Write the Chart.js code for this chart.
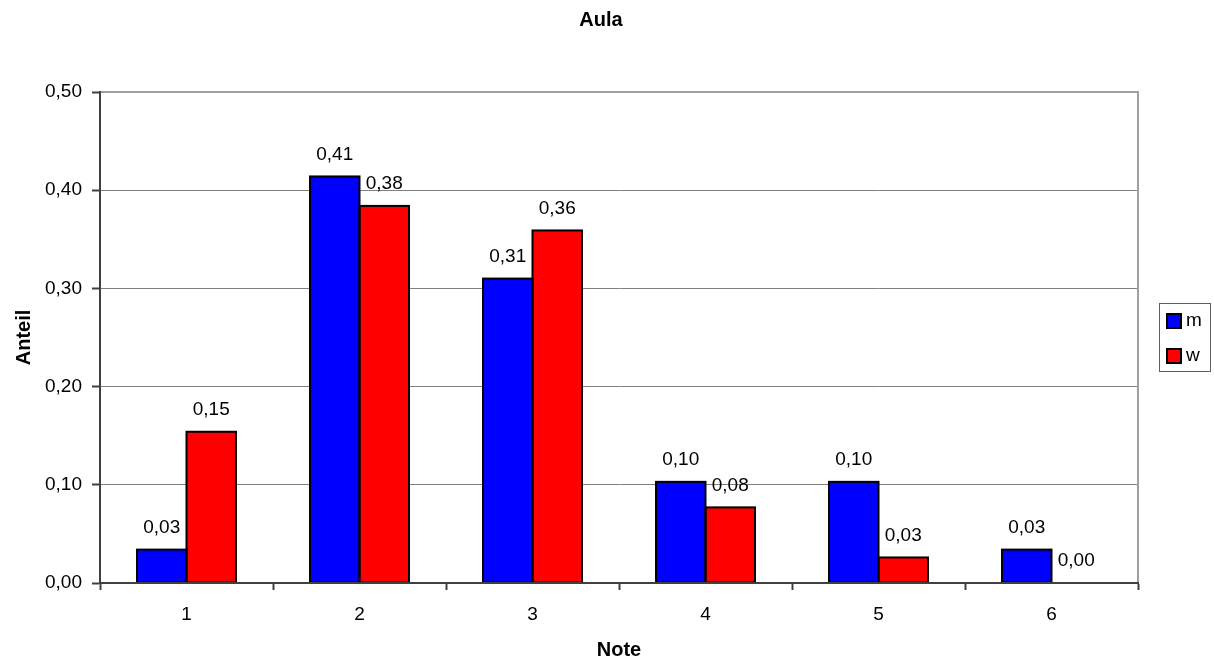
<!DOCTYPE html>
<html>
<head>
<meta charset="utf-8">
<title>Aula</title>
<script src="https://cdn.jsdelivr.net/npm/chart.js@4/dist/chart.umd.min.js"></script>
<style>
  html, body { margin: 0; padding: 0; background: #ffffff; }
  canvas { display: block; }
</style>
</head>
<body>
<canvas id="chart" width="1214" height="662"></canvas>
<script>
// Chart text
const chartTitle = 'Aula';
const xAxisTitle = 'Note';
const yAxisTitle = 'Anteil';

// Grades and the share of each group per grade
const categories = ['1', '2', '3', '4', '5', '6'];
const seriesNames = ['m', 'w'];
const valuesM = [0.034, 0.414, 0.310, 0.103, 0.103, 0.034];
const valuesW = [0.154, 0.384, 0.359, 0.077, 0.026, 0.000];
const yTicks = [0, 0.1, 0.2, 0.3, 0.4, 0.5];

const FONT = "'Liberation Sans', Arial, Helvetica, sans-serif";
const fmt = v => v.toFixed(2).replace('.', ',');

// Title centred over the drawing
const titleText = {
  id: 'titleText',
  afterDraw(chart) {
    const ctx = chart.ctx;
    ctx.save();
    ctx.font = 'bold 20px ' + FONT;
    ctx.fillStyle = '#000000';
    ctx.textAlign = 'center';
    ctx.textBaseline = 'middle';
    ctx.fillText(chartTitle, 601, 20);
    ctx.restore();
  }
};

// Black outline around each bar; neighbouring bars share one edge
const barOutlines = {
  id: 'barOutlines',
  afterDatasetsDraw(chart) {
    const ctx = chart.ctx;
    ctx.save();
    ctx.strokeStyle = '#000000';
    ctx.lineWidth = 2;
    chart.data.datasets.forEach((ds, i) => {
      const meta = chart.getDatasetMeta(i);
      meta.data.forEach((bar, j) => {
        if (!ds.data[j]) return;
        const p = bar.getProps(['x', 'y', 'base', 'width'], true);
        const l = p.x - p.width / 2;
        ctx.strokeRect(l, p.y, p.width, p.base - p.y);
      });
    });
    ctx.restore();
  }
};

// Value labels above each bar
const valueLabels = {
  id: 'valueLabels',
  afterDatasetsDraw(chart) {
    const ctx = chart.ctx;
    ctx.save();
    ctx.font = '19px ' + FONT;
    ctx.fillStyle = '#000000';
    ctx.textAlign = 'center';
    ctx.textBaseline = 'middle';
    chart.data.datasets.forEach((ds, i) => {
      const meta = chart.getDatasetMeta(i);
      meta.data.forEach((bar, j) => {
        ctx.fillText(fmt(ds.data[j]), bar.x, bar.y - 22);
      });
    });
    ctx.restore();
  }
};

// Plot frame: light top/right border, dark axes
const plotFrame = {
  id: 'plotFrame',
  afterDatasetsDraw(chart) {
    const { ctx, chartArea: a } = chart;
    ctx.save();
    ctx.lineWidth = 2;
    ctx.strokeStyle = '#a0a0a0';
    ctx.beginPath();
    ctx.moveTo(a.left, a.top);
    ctx.lineTo(a.right, a.top);
    ctx.lineTo(a.right, a.bottom);
    ctx.stroke();
    ctx.strokeStyle = '#404040';
    ctx.beginPath();
    ctx.moveTo(a.left, a.top - 1);
    ctx.lineTo(a.left, a.bottom);
    ctx.lineTo(a.right + 1, a.bottom);
    ctx.stroke();
    ctx.restore();
  }
};

// Boxed legend on the right
const boxLegend = {
  id: 'boxLegend',
  afterDraw(chart) {
    const ctx = chart.ctx;
    const box = { x: 1159.5, y: 303.5, w: 51, h: 68 };
    ctx.save();
    ctx.fillStyle = '#ffffff';
    ctx.fillRect(box.x, box.y, box.w, box.h);
    ctx.strokeStyle = '#606060';
    ctx.lineWidth = 1;
    ctx.strokeRect(box.x, box.y, box.w, box.h);
    ctx.font = '19px ' + FONT;
    ctx.textAlign = 'left';
    ctx.textBaseline = 'middle';
    chart.data.datasets.forEach((ds, i) => {
      const cy = 321 + i * 35;
      ctx.fillStyle = ds.backgroundColor;
      ctx.fillRect(1167, cy - 7, 14, 14);
      ctx.strokeStyle = '#000000';
      ctx.lineWidth = 2;
      ctx.strokeRect(1167, cy - 7, 14, 14);
      ctx.fillStyle = '#000000';
      ctx.fillText(ds.label, 1186, cy);
    });
    ctx.restore();
  }
};

new Chart(document.getElementById('chart'), {
  type: 'bar',
  data: {
    labels: categories,
    datasets: [
      { label: seriesNames[0], data: valuesM, backgroundColor: '#0000ff', borderWidth: 0 },
      { label: seriesNames[1], data: valuesW, backgroundColor: '#ff0000', borderWidth: 0 }
    ]
  },
  options: {
    responsive: false,
    devicePixelRatio: 1,
    animation: false,
    layout: { padding: { left: 0, right: 76, top: 92, bottom: 0 } },
    datasets: {
      bar: { categoryPercentage: 0.572, barPercentage: 1.0 }
    },
    plugins: {
      legend: { display: false },
      tooltip: { enabled: false },
      title: { display: false }
    },
    scales: {
      x: {
        offset: true,
        grid: {
          offset: true,
          drawOnChartArea: false,
          drawTicks: true,
          tickLength: 7,
          tickWidth: 2,
          tickColor: '#404040'
        },
        border: { display: true, color: '#404040', width: 2 },
        ticks: {
          color: '#000000',
          font: { family: FONT, size: 19 },
          padding: 13,
          maxRotation: 0
        },
        title: {
          display: true,
          text: xAxisTitle,
          color: '#000000',
          font: { family: FONT, size: 20, weight: 'bold' },
          padding: { top: 0, bottom: 0 }
        },
        afterFit(scale) { scale.height = 79; }
      },
      y: {
        min: 0,
        max: 0.5,
        grid: {
          color: '#808080',
          lineWidth: 1,
          drawTicks: true,
          tickLength: 8,
          tickWidth: 2,
          tickColor: '#404040'
        },
        border: { display: true, color: '#404040', width: 2 },
        afterBuildTicks(scale) {
          scale.ticks = yTicks.map(v => ({ value: v }));
        },
        ticks: {
          color: '#000000',
          font: { family: FONT, size: 19 },
          padding: 10,
          callback: v => fmt(v)
        },
        title: {
          display: true,
          text: yAxisTitle,
          color: '#000000',
          font: { family: FONT, size: 20, weight: 'bold' },
          padding: { top: 12, bottom: 0 }
        },
        afterFit(scale) { scale.width = 100; }
      }
    }
  },
  plugins: [barOutlines, valueLabels, plotFrame, boxLegend, titleText]
});
</script>
</body>
</html>
